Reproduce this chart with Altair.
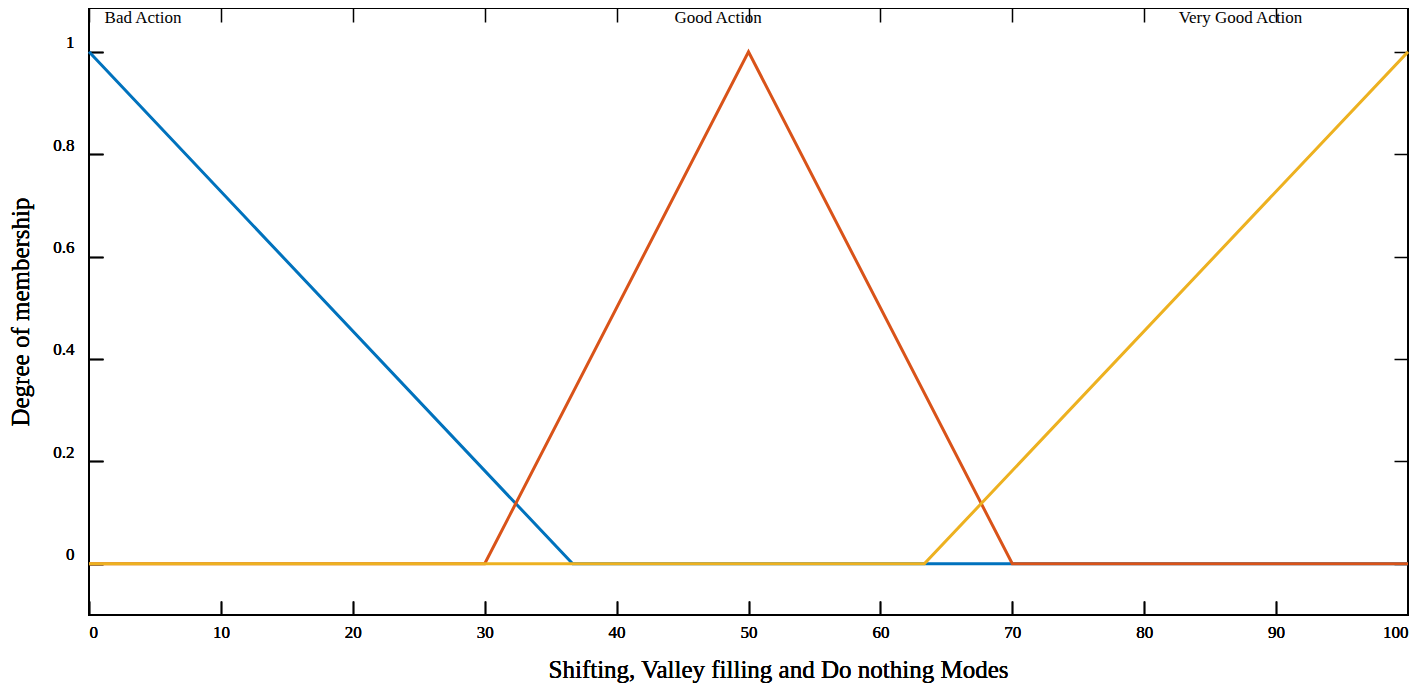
import altair as alt
import pandas as pd

# ---- data ----
bad_x = [0, 36.67, 100]
bad_y = [1, 0, 0]
good_x = [0, 30, 50, 70, 100]
good_y = [0, 0, 1, 0, 0]
vgood_x = [0, 63.33, 100]
vgood_y = [0, 0, 1]

series_colors = ["#0072BD", "#D95319", "#EDB120"]

label_texts = ["Bad Action", "Good Action", "Very Good Action"]
label_x = [4.1, 47.7, 87.3]
label_y = [1.056, 1.056, 1.056]

x_ticks = [0, 10, 20, 30, 40, 50, 60, 70, 80, 90, 100]
y_ticks = [0, 0.2, 0.4, 0.6, 0.8, 1]

FONT = "Liberation Serif"

x_scale = alt.Scale(domain=[0, 100], nice=False, zero=False)
y_scale = alt.Scale(domain=[-0.1, 1.0855], nice=False, zero=False)

x_axis_bottom = alt.Axis(
    orient="bottom", values=x_ticks, offset=-14, tickSize=14, tickWidth=1.5,
    tickColor="black", domain=False, grid=False, labelPadding=9,
    labelFontSize=17, labelFont=FONT, labelColor="black",
    labelFontWeight="normal", labelFlush=True,
    title="Shifting, Valley filling and Do nothing Modes",
    titleFont=FONT, titleFontSize=25, titleFontWeight="normal",
    titleColor="black", titleX=689, titleY=76, titleBaseline="alphabetic",
    titleAlign="center",
)
y_axis_left = alt.Axis(
    orient="left", values=y_ticks, offset=-14, tickSize=14, tickWidth=1.5,
    tickColor="black", domain=False, grid=False, labelPadding=15,
    labelOffset=-9, labelFontSize=17, labelFont=FONT, labelColor="black",
    labelFontWeight="normal", format="~g", labelFlush=False,
    title="Degree of membership", titleFont=FONT, titleFontSize=25,
    titleFontWeight="normal", titleColor="black", titlePadding=19,
)
x_axis_top = alt.Axis(
    orient="top", values=x_ticks, offset=-14, tickSize=14, tickWidth=1.5,
    tickColor="black", domain=False, grid=False, labels=False, title=None,
)
y_axis_right = alt.Axis(
    orient="right", values=y_ticks, offset=-14, tickSize=14, tickWidth=1.5,
    tickColor="black", domain=False, grid=False, labels=False, title=None,
)


def line_layer(xs, ys, color, axes):
    df = pd.DataFrame({"x": xs, "y": ys, "i": list(range(len(xs)))})
    xa, ya = axes
    return alt.Chart(df).mark_line(color=color, strokeWidth=3).encode(
        x=alt.X("x:Q", scale=x_scale, axis=xa),
        y=alt.Y("y:Q", scale=y_scale, axis=ya),
        order="i:O",
    )


main_axes = (x_axis_bottom, y_axis_left)
blue = line_layer(bad_x, bad_y, series_colors[0], main_axes)
orange = line_layer(good_x, good_y, series_colors[1], main_axes)
yellow = line_layer(vgood_x, vgood_y, series_colors[2], main_axes)

labels_df = pd.DataFrame({"t": label_texts, "x": label_x, "y": label_y})
labels = alt.Chart(labels_df).mark_text(
    font=FONT, fontSize=17, color="black", align="center", baseline="alphabetic"
).encode(
    x=alt.X("x:Q", scale=x_scale, axis=x_axis_top),
    y=alt.Y("y:Q", scale=y_scale, axis=y_axis_right),
    text="t:N",
)

chart = (
    alt.layer(blue, orange, yellow, labels)
    .resolve_axis(x="independent", y="independent")
    .properties(
        width=1319,
        height=607,
        background="white",
        autosize=alt.AutoSizeParams(type="none"),
        padding={"left": 81, "top": 0, "right": 1, "bottom": 68},
    )
    .configure_view(stroke="black", strokeWidth=2)
)

chart.save("out.html", embed_options={"renderer": "svg", "actions": False})
